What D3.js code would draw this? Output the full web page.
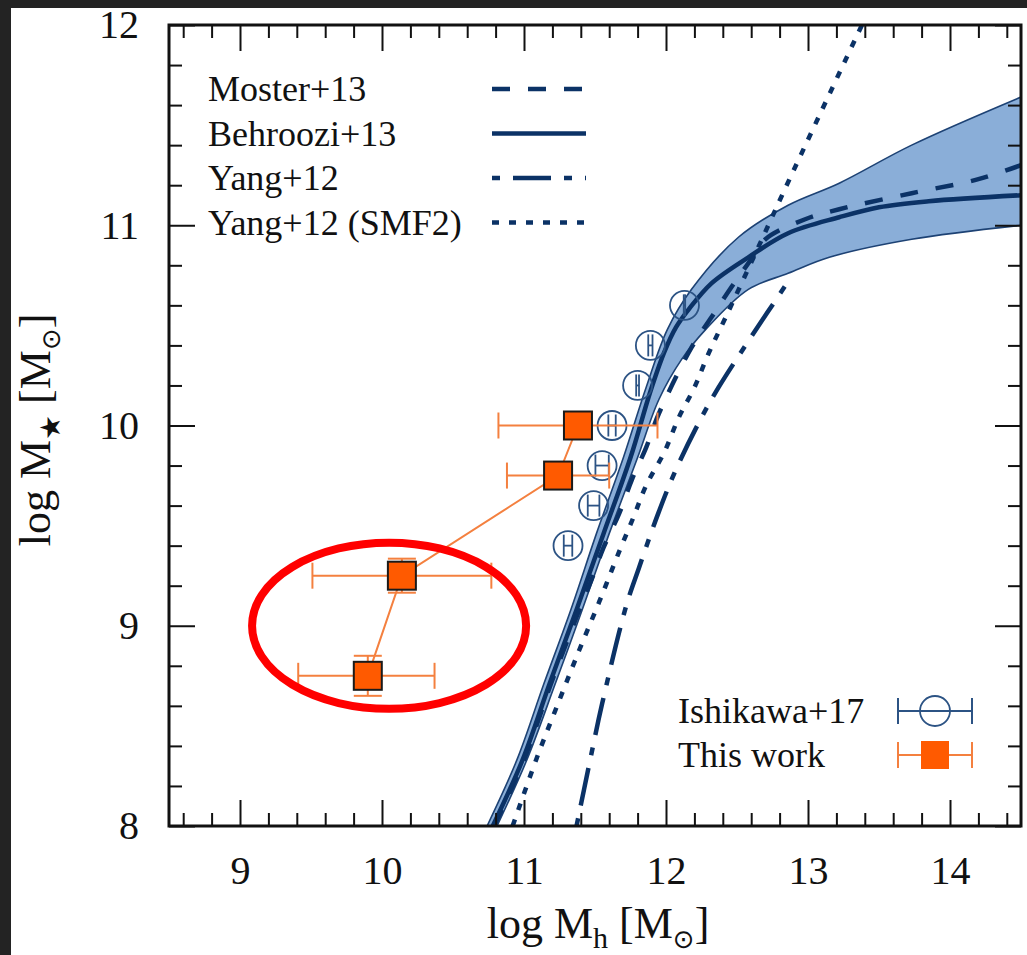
<!DOCTYPE html>
<html lang="en">
<head>
<meta charset="UTF-8">
<title>Stellar-to-halo mass relation</title>
<script src="https://d3js.org/d3.v7.min.js"></script>
<style>
  body { margin: 0; background-color: #232323; }
  svg { display: block; }
  text { font-family: "Liberation Serif", "Times New Roman", serif; fill: #111; }
</style>
</head>
<body>
<svg></svg>
<script>
// model relations, [log Mh, log M*]
const behroozi13 = [[10.78, 8.00], [10.99, 8.33], [11.18, 8.71], [11.37, 9.08], [11.56, 9.46], [11.75, 9.84],
  [11.89, 10.17], [11.99, 10.37], [12.07, 10.49], [12.16, 10.58], [12.32, 10.71], [12.58, 10.84], [12.86, 10.96],
  [13.22, 11.04], [13.50, 11.09], [13.85, 11.12], [14.50, 11.15]];
const behrooziUpper = [[10.74, 8.00], [10.95, 8.33], [11.14, 8.71], [11.33, 9.08], [11.51, 9.46], [11.70, 9.84],
  [11.86, 10.19], [12.01, 10.48], [12.18, 10.68], [12.51, 10.94], [12.86, 11.10], [13.22, 11.21],
  [13.73, 11.40], [14.50, 11.64]];
const behrooziLower = [[10.81, 8.00], [11.02, 8.33], [11.22, 8.71], [11.41, 9.08], [11.60, 9.46], [11.80, 9.84],
  [11.95, 10.13], [12.11, 10.33], [12.28, 10.48], [12.58, 10.68], [12.86, 10.76], [13.15, 10.84],
  [13.73, 10.93], [14.50, 11.00]];
const moster13 = [[10.79, 8.00], [11.00, 8.33], [11.19, 8.71], [11.39, 9.08], [11.47, 9.22], [11.56, 9.39],
  [11.67, 9.56], [11.76, 9.73], [11.86, 9.89], [11.95, 10.06], [12.18, 10.39], [12.32, 10.54], [12.46, 10.69],
  [12.60, 10.83], [12.70, 10.93], [12.98, 11.03], [13.22, 11.08], [13.73, 11.16], [14.20, 11.23], [14.50, 11.30]];
const yang12 = [[11.37, 8.00], [11.46, 8.31], [11.55, 8.61], [11.72, 9.10], [11.81, 9.29], [11.95, 9.57],
  [12.07, 9.78], [12.25, 10.04], [12.37, 10.19], [12.56, 10.40], [12.71, 10.56], [12.88, 10.74]];
const yang12smf2 = [[10.92, 8.00], [11.09, 8.34], [11.25, 8.63], [11.39, 8.88], [11.53, 9.12], [11.67, 9.37],
  [11.77, 9.54], [11.86, 9.70], [11.99, 9.87], [12.09, 10.04], [12.20, 10.19], [12.30, 10.36],
  [12.42, 10.54], [12.63, 10.86], [12.74, 11.03], [12.85, 11.20], [13.34, 11.94], [13.38, 12.00]];

// Ishikawa+17
const ishiMh = [12.13, 11.89, 11.80, 11.62, 11.55, 11.49, 11.31];
const ishiMs = [10.6, 10.4, 10.2, 10.0, 9.8, 9.6, 9.4];
const ishiErr = [0.005, 0.015, 0.01, 0.026, 0.047, 0.041, 0.03];

// this work
const workMh = [9.90, 10.14, 11.24, 11.38];
const workMs = [8.75, 9.25, 9.75, 10.0];
const workMhLo = [9.41, 9.51, 10.88, 10.82];
const workMhHi = [10.37, 10.77, 11.60, 11.94];
const workMsErr = [0.10, 0.085, 0.05, 0.05];

const modelLabels = ["Moster+13", "Behroozi+13", "Yang+12", "Yang+12 (SMF2)"];
const dataLabels = ["Ishikawa+17", "This work"];
const xTicks = [9, 10, 11, 12, 13, 14];
const yTicks = [8, 9, 10, 11, 12];
const highlight = { cx: 10.05, cy: 9.0, rx: 0.965, ry: 0.415 };

const width = 1027, height = 955;
const navy = "#0b3266", ishiBlue = "#2c5384", orange = "#ff5a00", orangeBar = "#f4803f";

const svg = d3.select("svg").attr("width", width).attr("height", height);
svg.append("rect").attr("x", 11).attr("y", 8).attr("width", width - 11).attr("height", height - 8).attr("fill", "#fff");

const x = d3.scaleLinear().domain([8.5, 14.5]).range([169, 1021]);
const y = d3.scaleLinear().domain([8, 12]).range([826, 25]);

svg.append("clipPath").attr("id", "plot")
  .append("rect").attr("x", 169).attr("y", 25).attr("width", 852).attr("height", 801);
const plot = svg.append("g").attr("clip-path", "url(#plot)");

const line = d3.line().x(d => x(d[0])).y(d => y(d[1])).curve(d3.curveCatmullRom.alpha(0.5));

// Behroozi band
const bandPath = line(behrooziUpper) + "L" + line(behrooziLower.slice().reverse()).slice(1) + "Z";
plot.append("path").attr("d", bandPath).attr("fill", "#8aaed8").attr("stroke", "none");
[behrooziUpper, behrooziLower].forEach(b => {
  plot.append("path").attr("d", line(b)).attr("fill", "none").attr("stroke", "#1d4274").attr("stroke-width", 1.6);
});

const models = [
  { data: behroozi13, dash: null },
  { data: moster13, dash: "18,18" },
  { data: yang12, dash: "8,13,38,13" },
  { data: yang12smf2, dash: "7,10" }
];
models.forEach(m => {
  plot.append("path").attr("d", line(m.data))
    .attr("fill", "none").attr("stroke", navy).attr("stroke-width", 4.5)
    .attr("stroke-dasharray", m.dash);
});

// Ishikawa points
const ishi = plot.append("g").attr("stroke", ishiBlue).attr("fill", "none").attr("stroke-width", 1.8);
ishiMh.forEach((mh, i) => {
  const cx = x(mh), cy = y(ishiMs[i]);
  const x0 = x(mh - ishiErr[i]), x1 = x(mh + ishiErr[i]);
  ishi.append("circle").attr("cx", cx).attr("cy", cy).attr("r", 14.5);
  ishi.append("line").attr("x1", x0).attr("x2", x1).attr("y1", cy).attr("y2", cy);
  ishi.append("line").attr("x1", x0).attr("x2", x0).attr("y1", cy - 11).attr("y2", cy + 11);
  ishi.append("line").attr("x1", x1).attr("x2", x1).attr("y1", cy - 11).attr("y2", cy + 11);
});

// this work
const work = plot.append("g");
work.append("path")
  .attr("d", d3.line().x(d => x(d)).y((d, i) => y(workMs[i]))(workMh))
  .attr("fill", "none").attr("stroke", orangeBar).attr("stroke-width", 2);
workMh.forEach((mh, i) => {
  const cx = x(mh), cy = y(workMs[i]);
  const g = work.append("g").attr("stroke", orangeBar).attr("stroke-width", 2);
  g.append("line").attr("x1", x(workMhLo[i])).attr("x2", x(workMhHi[i])).attr("y1", cy).attr("y2", cy);
  g.append("line").attr("x1", x(workMhLo[i])).attr("x2", x(workMhLo[i])).attr("y1", cy - 13).attr("y2", cy + 13);
  g.append("line").attr("x1", x(workMhHi[i])).attr("x2", x(workMhHi[i])).attr("y1", cy - 13).attr("y2", cy + 13);
  const yt = y(workMs[i] + workMsErr[i]), yb = y(workMs[i] - workMsErr[i]);
  g.append("line").attr("x1", cx).attr("x2", cx).attr("y1", yt).attr("y2", yb);
  g.append("line").attr("x1", cx - 14).attr("x2", cx + 14).attr("y1", yt).attr("y2", yt);
  g.append("line").attr("x1", cx - 14).attr("x2", cx + 14).attr("y1", yb).attr("y2", yb);
  work.append("rect").attr("x", cx - 14).attr("y", cy - 14).attr("width", 28).attr("height", 28)
    .attr("fill", orange).attr("stroke", "#1a1a1a").attr("stroke-width", 2);
});

// legends
const legModel = svg.append("g");
modelLabels.forEach((lab, i) => {
  const base = 101 + i * 44.5;
  legModel.append("text").attr("x", 208).attr("y", base).attr("font-size", 36).text(lab);
  legModel.append("line").attr("x1", 492).attr("x2", 586).attr("y1", base - 12).attr("y2", base - 12)
    .attr("stroke", navy).attr("stroke-width", 4.5).attr("stroke-dasharray", models[[1, 0, 2, 3][i]].dash);
});

const legData = svg.append("g");
dataLabels.forEach((lab, i) => {
  const base = 723 + i * 44;
  const cy = base - 12, cx = 935;
  legData.append("text").attr("x", 678).attr("y", base).attr("font-size", 36).text(lab);
  const col = i === 0 ? ishiBlue : orangeBar;
  const g = legData.append("g").attr("stroke", col).attr("stroke-width", 2);
  g.append("line").attr("x1", 898).attr("x2", 972).attr("y1", cy).attr("y2", cy);
  g.append("line").attr("x1", 898).attr("x2", 898).attr("y1", cy - 13).attr("y2", cy + 13);
  g.append("line").attr("x1", 972).attr("x2", 972).attr("y1", cy - 13).attr("y2", cy + 13);
  if (i === 0) {
    legData.append("circle").attr("cx", cx).attr("cy", cy).attr("r", 15)
      .attr("fill", "#fff").attr("stroke", ishiBlue).attr("stroke-width", 1.8);
    legData.append("line").attr("x1", cx - 15).attr("x2", cx + 15).attr("y1", cy).attr("y2", cy)
      .attr("stroke", ishiBlue).attr("stroke-width", 2);
  } else {
    legData.append("rect").attr("x", cx - 14).attr("y", cy - 14).attr("width", 28).attr("height", 28).attr("fill", orange);
  }
});

// axes, ticks pointing inward
const minorX = d3.range(86, 145, 2).map(d => d / 10).filter(d => d % 1 !== 0);
const minorY = d3.range(80, 121, 2).map(d => d / 10).filter(d => d % 1 !== 0);
const axes = svg.append("g");
function addAxis(axis, tr) {
  const g = axes.append("g").attr("transform", tr).call(axis);
  g.select(".domain").remove();
  g.selectAll(".tick line").attr("stroke", "#111").attr("stroke-width", 2);
  return g;
}
addAxis(d3.axisBottom(x).tickValues(minorX).tickSizeInner(-13).tickSizeOuter(0).tickFormat(""), "translate(0,826)");
addAxis(d3.axisTop(x).tickValues(minorX).tickSizeInner(-13).tickSizeOuter(0).tickFormat(""), "translate(0,25)");
addAxis(d3.axisTop(x).tickValues(xTicks).tickSizeInner(-26).tickSizeOuter(0).tickFormat(""), "translate(0,25)");
addAxis(d3.axisLeft(y).tickValues(minorY).tickSizeInner(-13).tickSizeOuter(0).tickFormat(""), "translate(169,0)");
addAxis(d3.axisRight(y).tickValues(minorY).tickSizeInner(-13).tickSizeOuter(0).tickFormat(""), "translate(1021,0)");
addAxis(d3.axisRight(y).tickValues(yTicks).tickSizeInner(-26).tickSizeOuter(0).tickFormat(""), "translate(1021,0)");
const xAx = addAxis(d3.axisBottom(x).tickValues(xTicks).tickSizeInner(-26).tickSizeOuter(0).tickPadding(30).tickFormat(d3.format("d")), "translate(0,826)");
const yAx = addAxis(d3.axisLeft(y).tickValues(yTicks).tickSizeInner(-26).tickSizeOuter(0).tickPadding(30).tickFormat(d3.format("d")), "translate(169,0)");
[xAx, yAx].forEach(g => g.selectAll("text").attr("font-size", 40).attr("font-family", "Liberation Serif").attr("fill", "#111"));

axes.append("rect").attr("x", 169).attr("y", 25).attr("width", 852).attr("height", 801)
  .attr("fill", "none").attr("stroke", "#111").attr("stroke-width", 3);

// axis titles
const xt = svg.append("text").attr("x", 598).attr("y", 938).attr("text-anchor", "middle").attr("font-size", 44);
xt.append("tspan").text("log M");
xt.append("tspan").attr("dy", 10).attr("font-size", 30).text("h");
xt.append("tspan").attr("dy", -10).text(" [M");
xt.append("tspan").attr("dy", 10).attr("font-size", 26).attr("font-family", "DejaVu Sans").text("⊙");
xt.append("tspan").attr("dy", -10).text("]");

const yt = svg.append("text").attr("transform", "translate(50,430) rotate(-90)").attr("text-anchor", "middle").attr("font-size", 44);
yt.append("tspan").text("log M");
yt.append("tspan").attr("dy", 10).attr("font-size", 28).attr("font-family", "DejaVu Sans").text("★");
yt.append("tspan").attr("dy", -10).text(" [M");
yt.append("tspan").attr("dy", 10).attr("font-size", 26).attr("font-family", "DejaVu Sans").text("⊙");
yt.append("tspan").attr("dy", -10).text("]");

// highlight ring
svg.append("ellipse")
  .attr("cx", x(highlight.cx)).attr("cy", y(highlight.cy))
  .attr("rx", x(highlight.cx + highlight.rx) - x(highlight.cx))
  .attr("ry", y(highlight.cy) - y(highlight.cy + highlight.ry))
  .attr("fill", "none").attr("stroke", "#ff0000").attr("stroke-width", 8);
</script>
</body>
</html>
